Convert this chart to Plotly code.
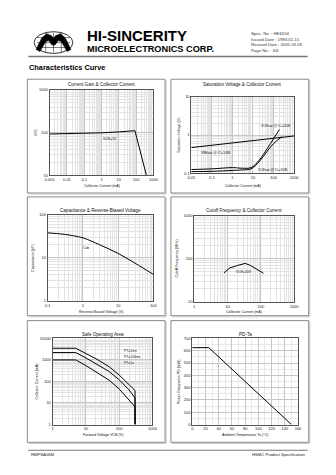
import math
import plotly.graph_objects as go

W, H = 336, 475

# ---------------- data ----------------
# Current gain vs collector current
hfe_ic = [0.001, 0.01, 0.1, 1, 10, 50, 85, 390]
hfe_val = [93, 94, 96, 99, 104, 109, 111, 10]

# Saturation voltage vs collector current
vce20_ic = [0.01, 0.1, 1, 3, 8, 20, 50, 100, 190]
vce20_v = [0.125, 0.13, 0.14, 0.135, 0.14, 0.22, 0.45, 0.8, 1.4]
vce10_ic = [0.01, 0.1, 1, 3, 8, 20, 50, 100, 250]
vce10_v = [0.11, 0.112, 0.118, 0.122, 0.13, 0.2, 0.38, 0.6, 0.9]
vbe_ic = [0.01, 0.1, 1, 10, 100, 1000]
vbe_v = [0.47, 0.54, 0.62, 0.71, 0.82, 0.95]

# Capacitance vs reverse-biased voltage
cob_v = [0.1, 0.3, 1, 3, 10, 30, 100]
cob_pf = [38, 35, 29, 20, 12.6, 7.5, 4.1]

# Cutoff frequency vs collector current
ft_ic = [7.8, 11.6, 20, 34, 49, 77, 120]
ft_mhz = [47, 61, 70, 78, 70, 57, 46]

# Safe operating area
soa_v = [1, 5, 10, 20, 50, 100, 200, 300, 300]
soa_1ms = [3500, 3500, 2000, 1150, 480, 200, 70, 38, 1]
soa_100ms = [2200, 2200, 1250, 680, 290, 120, 40, 17, 1]
soa_1s = [1000, 1000, 550, 290, 115, 45, 14, 6.6, 1]

# Power dissipation vs ambient temperature
pd_ta = [0, 25, 150]
pd_mw = [625, 625, 0]

# tick labels
t1x = [0.001, 0.01, 0.1, 1, 10, 100, 1000]
t1xl = ["0.001", "0.01", "0.1", "1", "10", "100", "1000"]
t1y = [10, 100, 1000]
t1yl = ["10", "100", "1000"]
t2x = [0.01, 0.1, 1, 10, 100, 1000]
t2xl = ["0.01", "0.1", "1", "10", "100", "1000"]
t2y = [0.1, 1, 10]
t2yl = ["0.1", "1", "10"]
t3x = [0.1, 1, 10, 100]
t3xl = ["0.1", "1", "10", "100"]
t3y = [1, 10, 100]
t3yl = ["1", "10", "100"]
t4x = [1, 10, 100, 1000]
t4xl = ["1", "10", "100", "1000"]
t4y = [10, 100, 1000]
t4yl = ["10", "100", "1000"]
t5x = [1, 10, 100, 1000]
t5xl = ["1", "10", "100", "1000"]
t5y = [1, 10, 100, 1000, 10000]
t5yl = ["1", "10", "100", "1000", "10000"]
t6x = [0, 20, 40, 60, 80, 100, 120, 140, 160]
t6xl = [str(v) for v in t6x]
t6y = [0, 100, 200, 300, 400, 500, 600, 700]
t6yl = [str(v) for v in t6y]

FONT = "Arial, Liberation Sans, sans-serif"


def fx(x):
    return x / W


def fy(y):
    return 1 - y / H


def minor_log(lo, hi):
    vals = []
    e = math.floor(math.log10(lo))
    while 10 ** e < hi:
        for k in range(2, 10):
            v = k * 10 ** e
            if lo < v < hi:
                vals.append(v)
        e += 1
    return vals


fig = go.Figure()
shapes = []
annotations = []

panels = [
    dict(box=(23, 77, 165, 192), plot=(46, 88, 153, 174), log=True,
         xt=(t1x, t1xl), yt=(t1y, t1yl),
         title="Current Gain & Collector Current", ty=82,
         xlab="Collector Current (mA)", xly=185, ylab="hFE", ylx=32),
    dict(box=(171, 77, 313, 192), plot=(192, 95, 298, 172), log=True,
         xt=(t2x, t2xl), yt=(t2y, t2yl),
         title="Saturation Voltage & Collector Current", ty=82,
         xlab="Collector Current (mA)", xly=185, ylab="Saturation Voltage (V)", ylx=179),
    dict(box=(23, 196, 165, 316), plot=(44, 214, 153, 301), log=True,
         xt=(t3x, t3xl), yt=(t3y, t3yl),
         title="Capacitance & Reverse-Biased Voltage", ty=210,
         xlab="Reverse-Biased Voltage (V)", xly=312, ylab="Capacitance (pF)", ylx=29),
    dict(box=(171, 196, 313, 316), plot=(195, 215, 298, 302), log=True,
         xt=(t4x, t4xl), yt=(t4y, t4yl),
         title="Cutoff Frequency & Collector Current", ty=210,
         xlab="Collector Current (mA)", xly=312, ylab="Cutoff Frequency (MHz)", ylx=177),
    dict(box=(23, 321, 165, 444), plot=(49, 339, 152, 426), log=True,
         xt=(t5x, t5xl), yt=(t5y, t5yl),
         title="Safe Operating Area", ty=335,
         xlab="Forward Voltage VCE (V)", xly=437, ylab="Collector Current (mA)", ylx=33),
    dict(box=(171, 321, 313, 444), plot=(193, 339, 302, 426), log=False,
         xt=(t6x, t6xl), yt=(t6y, t6yl),
         title="PD-Ta", ty=335,
         xlab="Ambient Temperature Ta (\u00b0C)", xly=437, ylab="Power Dissipation PD (mW)", ylx=180),
]

layout = {}
for i, p in enumerate(panels, start=1):
    x0, y0, x1, y1 = p["box"]
    shapes.append(dict(type="rect", xref="paper", yref="paper",
                       x0=fx(x0 + 1.2), x1=fx(x1 + 1.2), y0=fy(y1 + 1.2), y1=fy(y0 + 1.2),
                       line=dict(color="#cfcfcf", width=1), layer="below"))
    shapes.append(dict(type="rect", xref="paper", yref="paper",
                       x0=fx(x0), x1=fx(x1), y0=fy(y1), y1=fy(y0),
                       line=dict(color="#8a8a8a", width=1), fillcolor="white", layer="below"))
    px0, py0, px1, py1 = p["plot"]
    xs = "" if i == 1 else str(i)
    xt, xtl = p["xt"]
    yt, ytl = p["yt"]
    common = dict(showline=True, linecolor="#555", linewidth=0.8, mirror=True,
                  ticks="", tickfont=dict(size=4, family=FONT, color="#222"),
                  showgrid=True, gridcolor="#c6c6c6", gridwidth=0.6, zeroline=False,
                  tickmode="array")
    if p["log"]:
        xa = dict(common, type="log", range=[math.log10(xt[0]), math.log10(xt[-1])],
                  tickvals=xt, ticktext=xtl,
                  minor=dict(tickmode="array", tickvals=minor_log(xt[0], xt[-1]),
                             showgrid=True, gridcolor="#e3e3e3", gridwidth=0.5, ticks=""))
        ya = dict(common, type="log", range=[math.log10(yt[0]), math.log10(yt[-1])],
                  tickvals=yt, ticktext=ytl,
                  minor=dict(tickmode="array", tickvals=minor_log(yt[0], yt[-1]),
                             showgrid=True, gridcolor="#e3e3e3", gridwidth=0.5, ticks=""))
    else:
        xa = dict(common, range=[xt[0], xt[-1]], tickvals=xt, ticktext=xtl,
                  minor=dict(tickmode="array", tickvals=[v + 10 for v in xt[:-1]],
                             showgrid=True, gridcolor="#e8e8e8", gridwidth=0.5, ticks=""))
        ya = dict(common, range=[yt[0], yt[-1]], tickvals=yt, ticktext=ytl,
                  minor=dict(tickmode="array", tickvals=[v + 50 for v in yt[:-1]],
                             showgrid=True, gridcolor="#e8e8e8", gridwidth=0.5, ticks=""))
    xa.update(domain=[fx(px0), fx(px1)], anchor="y" + xs)
    ya.update(domain=[fy(py1), fy(py0)], anchor="x" + xs)
    layout["xaxis" + xs] = xa
    layout["yaxis" + xs] = ya
    cx = (px0 + px1) / 2
    cy = (py0 + py1) / 2
    annotations.append(dict(text=p["title"], x=fx(cx), y=fy(p["ty"]), xref="paper", yref="paper",
                            showarrow=False, font=dict(size=4.6, family=FONT, color="#111"),
                            xanchor="center", yanchor="middle"))
    annotations.append(dict(text=p["xlab"], x=fx(cx), y=fy(p["xly"]), xref="paper", yref="paper",
                            showarrow=False, font=dict(size=3.6, family=FONT, color="#111"),
                            xanchor="center", yanchor="middle"))
    annotations.append(dict(text=p["ylab"], x=fx(p["ylx"]), y=fy(cy), xref="paper", yref="paper",
                            showarrow=False, textangle=-90,
                            font=dict(size=3.6, family=FONT, color="#111"),
                            xanchor="center", yanchor="middle"))

line = dict(color="black", width=1)
fig.add_trace(go.Scatter(x=hfe_ic, y=hfe_val, mode="lines", line=line, xaxis="x", yaxis="y"))
fig.add_trace(go.Scatter(x=vce20_ic, y=vce20_v, mode="lines", line=line, line_shape="spline",
                         xaxis="x2", yaxis="y2"))
fig.add_trace(go.Scatter(x=vce10_ic, y=vce10_v, mode="lines", line=line, line_shape="spline",
                         xaxis="x2", yaxis="y2"))
fig.add_trace(go.Scatter(x=vbe_ic, y=vbe_v, mode="lines", line=line, xaxis="x2", yaxis="y2"))
fig.add_trace(go.Scatter(x=cob_v, y=cob_pf, mode="lines", line=line, line_shape="spline",
                         xaxis="x3", yaxis="y3"))
fig.add_trace(go.Scatter(x=ft_ic, y=ft_mhz, mode="lines", line=line, xaxis="x4", yaxis="y4"))
for s in (soa_1ms, soa_100ms, soa_1s):
    fig.add_trace(go.Scatter(x=soa_v, y=s, mode="lines", line=line, xaxis="x5", yaxis="y5"))
fig.add_trace(go.Scatter(x=pd_ta, y=pd_mw, mode="lines", line=line, xaxis="x6", yaxis="y6"))


# in-plot labels
def lab(text, x, y, size=3.4, anchor="left"):
    annotations.append(dict(text=text, x=fx(x), y=fy(y), xref="paper", yref="paper",
                            showarrow=False, xanchor=anchor, yanchor="middle",
                            font=dict(size=size, family=FONT, color="#111")))


lab("VCE=1V", 108, 137, anchor="center")
lab("VCEsat @ IC=20IB", 262, 124)
lab("VBEsat @ IC=10IB", 200, 152)
lab("VCEsat @ IC=10IB", 259, 169)
lab("Cob", 83, 248, anchor="center")
lab("VCE=20V", 246, 272, anchor="center")
lab("PT=1ms", 121, 352)
lab("PT=100ms", 121, 358)
lab("PT=1s", 121, 364)

# header logo
shapes.append(dict(type="circle", xref="paper", yref="paper",
                   x0=fx(30), x1=fx(70), y0=fy(51), y1=fy(29),
                   line=dict(color="black", width=0.8)))
for yy in (35, 40, 45):
    shapes.append(dict(type="line", xref="paper", yref="paper", x0=fx(33), x1=fx(67),
                       y0=fy(yy), y1=fy(yy), line=dict(color="black", width=0.5)))
for xx in (42, 50, 58):
    shapes.append(dict(type="line", xref="paper", yref="paper", x0=fx(xx), x1=fx(xx),
                       y0=fy(30), y1=fy(50), line=dict(color="black", width=0.5)))
pts = [(32, 47), (38, 35), (43, 31), (48, 33), (50, 36), (52, 33), (57, 31), (62, 35),
       (68, 47), (64, 49), (58, 39), (55, 38), (52, 42), (50, 43), (48, 42), (45, 38),
       (42, 39), (36, 49)]
path = "M " + " L ".join(f"{fx(a):.5f},{fy(b):.5f}" for a, b in pts) + " Z"
shapes.append(dict(type="path", xref="paper", yref="paper", path=path,
                   fillcolor="black", line=dict(color="black", width=0.5)))

annotations.append(dict(text="<b>HI-SINCERITY</b>", x=fx(82), y=fy(33), xref="paper", yref="paper",
                        showarrow=False, xanchor="left", yanchor="middle",
                        font=dict(size=15, family=FONT, color="black")))
annotations.append(dict(text="<b>MICROELECTRONICS CORP.</b>", x=fx(82), y=fy(46), xref="paper",
                        yref="paper", showarrow=False, xanchor="left", yanchor="middle",
                        font=dict(size=9.2, family=FONT, color="black")))
spec = ["Spec. No. : HE6204", "Issued Date : 1993.01.15", "Revised Date : 2005.03.09",
        "Page No. : 3/4"]
for k, s in enumerate(spec):
    annotations.append(dict(text=s, x=fx(251), y=fy(31 + k * 5.6), xref="paper", yref="paper",
                            showarrow=False, xanchor="left", yanchor="middle",
                            font=dict(size=4.3, family=FONT, color="#333")))
shapes.append(dict(type="line", xref="paper", yref="paper", x0=fx(24), x1=fx(312),
                   y0=fy(54), y1=fy(54), line=dict(color="#777", width=1.5)))
annotations.append(dict(text="<b>Characteristics Curve</b>", x=fx(23), y=fy(65), xref="paper",
                        yref="paper", showarrow=False, xanchor="left", yanchor="middle",
                        font=dict(size=7.4, family=FONT, color="black")))

# footer
shapes.append(dict(type="line", xref="paper", yref="paper", x0=fx(24), x1=fx(312),
                   y0=fy(452), y1=fy(452), line=dict(color="#777", width=1.2)))
annotations.append(dict(text="HMPSA06M", x=fx(25), y=fy(456), xref="paper", yref="paper",
                        showarrow=False, xanchor="left", yanchor="middle",
                        font=dict(size=4.2, family=FONT, color="#222")))
annotations.append(dict(text="HSMC Product Specification", x=fx(312), y=fy(456), xref="paper",
                        yref="paper", showarrow=False, xanchor="right", yanchor="middle",
                        font=dict(size=4.2, family=FONT, color="#222")))

fig.update_layout(width=W, height=H, margin=dict(l=0, r=0, t=0, b=0),
                  paper_bgcolor="white", plot_bgcolor="white", showlegend=False,
                  shapes=shapes, annotations=annotations, **layout)
fig.write_html("out.html", config={"displayModeBar": False})
